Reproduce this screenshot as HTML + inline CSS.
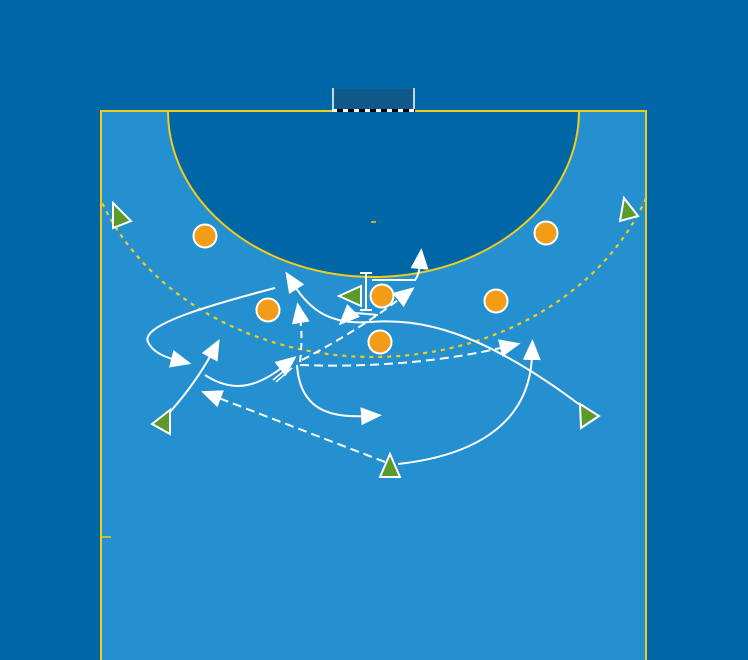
<!DOCTYPE html>
<html><head><style>html,body{margin:0;padding:0;background:#0067a7;}svg{display:block}</style></head>
<body>
<svg width="748" height="660" viewBox="0 0 748 660" xmlns="http://www.w3.org/2000/svg">
<defs>
<marker id="a" markerUnits="userSpaceOnUse" markerWidth="24" markerHeight="22" refX="5" refY="10" orient="auto">
<polygon points="0,1 21,10 0,19" fill="#fff"/>
</marker>
<clipPath id="c"><rect x="101" y="111" width="545" height="549"/></clipPath>
<pattern id="net" width="6" height="6" patternUnits="userSpaceOnUse"><rect width="6" height="6" fill="#0a5a8f"/><path d="M0 0H6M0 0V6" stroke="#2a4d6e" stroke-width="1"/></pattern>
</defs>
<rect width="748" height="660" fill="#0067a7"/>
<rect x="101" y="111" width="545" height="560" fill="#2490d0" stroke="#f2cc1c" stroke-width="2"/>
<g clip-path="url(#c)">
<path d="M168,111 A205.5,166 0 0 0 579,111 Z" fill="#0067a7" stroke="#f2cc1c" stroke-width="2"/>
<ellipse cx="373" cy="111" rx="292" ry="246" fill="none" stroke="#f2cc1c" stroke-width="2.2" stroke-dasharray="4,5"/>
</g>
<line x1="371" y1="222" x2="376" y2="222" stroke="#f2cc1c" stroke-width="1.5"/>
<line x1="101" y1="537" x2="111" y2="537" stroke="#f2cc1c" stroke-width="1.5"/>
<rect x="333" y="89" width="81" height="21" fill="url(#net)"/>
<line x1="333" y1="88" x2="333" y2="111" stroke="#fff" stroke-width="1.5"/>
<line x1="414" y1="88" x2="414" y2="111" stroke="#fff" stroke-width="1.5"/>
<line x1="332" y1="110.5" x2="415" y2="110.5" stroke="#000" stroke-width="3"/>
<line x1="332" y1="110.5" x2="415" y2="110.5" stroke="#fff" stroke-width="3" stroke-dasharray="5,6"/>
<g fill="none" stroke="#fff" stroke-width="2">
<path d="M275,288 C210,305 140,325 148,342 C153,353 168,358 176,360" marker-end="url(#a)"/>
<path d="M170,412 C185,395 200,375 212,353" marker-end="url(#a)"/>
<path d="M205,375 C235,395 260,385 284,366" marker-end="url(#a)"/>
<path d="M273,380 L290,366 M276,382 L292,368" stroke-width="1.5"/>
<path d="M300,362 C302,345 302,330 300,318" stroke-dasharray="7,5" marker-end="url(#a)"/>
<path d="M297,365 C300,410 330,418 366,416" marker-end="url(#a)"/>
<path d="M300,365 C380,368 450,360 505,347" stroke-dasharray="9,5" marker-end="url(#a)"/>
<path d="M302,360 C340,340 375,318 402,297" stroke-dasharray="8,5" marker-end="url(#a)"/>
<path d="M580,405 C480,330 420,318 370,322 C330,325 310,310 294,285" marker-end="url(#a)"/>
<path d="M378,315 C365,314 352,312 350,314" marker-end="url(#a)"/>
<path d="M372,280 L415,280 Q419,275 420,264" marker-end="url(#a)"/>
<path d="M398,464 C480,455 530,420 532,355" marker-end="url(#a)"/>
<path d="M385,462 L216,397" stroke-dasharray="9,5" marker-end="url(#a)"/>
</g>
<g stroke="#fff" stroke-width="2"><line x1="366" y1="273" x2="366" y2="310"/><line x1="360" y1="273" x2="372" y2="273"/><line x1="360" y1="310" x2="372" y2="310"/></g>
<g fill="#f39c17" stroke="#fff" stroke-width="2">
<circle cx="205" cy="236" r="11.5"/><circle cx="546" cy="233" r="11.5"/><circle cx="268" cy="310" r="11.5"/>
<circle cx="382" cy="296" r="11.5"/><circle cx="496" cy="301" r="11.5"/><circle cx="380" cy="342" r="11.5"/>
</g>
<g fill="#5b9a2b" stroke="#fff" stroke-width="2">
<polygon points="113,203 131,221 113,228"/>
<polygon points="624,198 638,216 620,221"/>
<polygon points="339,296 361,286 361,306"/>
<polygon points="152,424 170,410 170,434"/>
<polygon points="580,404 599,416 581,428"/>
<polygon points="390,454 400,477 380,477"/>
</g>
</svg>
</body></html>
